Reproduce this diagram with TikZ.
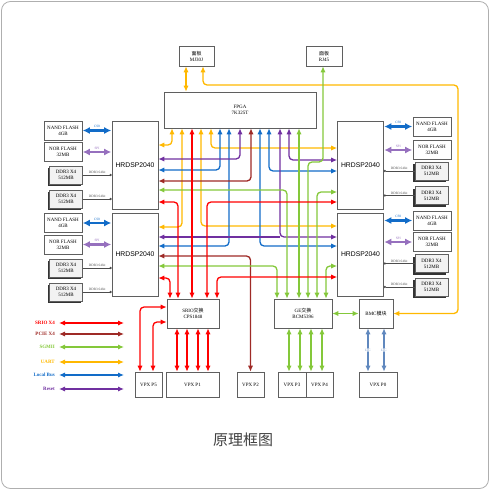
\documentclass[tikz,border=0pt]{standalone}
\usepackage{fontspec}
\setmainfont{Liberation Serif}
\newfontfamily\cjk{Noto Sans CJK SC}
\newfontfamily\dspfont{Liberation Sans}
\usepackage{tikz}
\usetikzlibrary{arrows.meta,calc,shadows}

\definecolor{srioc}{RGB}{255,0,0}
\definecolor{pciec}{RGB}{158,42,38}
\definecolor{sgmiic}{RGB}{132,200,58}
\definecolor{uartc}{RGB}{255,184,0}
\definecolor{lbusc}{RGB}{18,108,200}
\definecolor{rstc}{RGB}{112,48,160}
\definecolor{spic}{RGB}{150,112,190}
\definecolor{i2cc}{RGB}{96,136,190}
\definecolor{boxc}{RGB}{95,95,95}
\definecolor{framec}{RGB}{175,175,175}
\newcommand\boxfont{\fontsize{5}{6}\selectfont}
\newcommand\lblfont{\fontsize{3.4}{3.8}\selectfont}

\begin{document}
\begin{tikzpicture}[x=1pt,y=-1pt,
    >={Latex[length=6pt,width=5.2pt]},
    box/.style={draw=boxc, fill=white, line width=0.6pt, inner sep=0pt, align=center, font=\boxfont},
    dsp/.style={box, minimum width=46pt, font=\dspfont\fontsize{6.8}{8}\selectfont},
    flash/.style={box, minimum width=38pt, minimum height=19pt},
    ddrbox/.style={box, fill=gray!10, minimum width=33pt, minimum height=18pt,
        drop shadow={shadow xshift=-1.6pt, shadow yshift=-2pt, opacity=1, fill=black!80}},
    vpx/.style={box, minimum height=25pt},
    sw/.style={box, minimum height=29pt},
    bus/.style={line width=1.3pt, rounded corners=4pt, <->},
    srio/.style={bus, srioc},
    pcie/.style={bus, pciec},
    sgmii/.style={bus, sgmiic},
    uart/.style={bus, uartc},
    lbus/.style={bus, lbusc},
    rst/.style={bus, rstc},
    memlink/.style={line width=2.2pt, {Latex[length=7pt,width=7pt]}-{Latex[length=7pt,width=7pt]}, shorten <=0.5pt, shorten >=0.5pt},
    cslink/.style={memlink, lbusc},
    spilink/.style={memlink, spic},
    ddrlink/.style={black!70, line width=0.9pt},
    i2clink/.style={bus, i2cc},
    lbl/.style={font=\lblfont, inner sep=0.6pt},
    legend/.style={anchor=east, font=\bfseries\boxfont, inner sep=0pt}]
\useasboundingbox (0,0) rectangle (490,490);
\draw[framec, rounded corners=9pt, line width=0.8pt] (1.5,1.5) rectangle (488.5,488.5);

% top
\node[box, minimum width=35pt, minimum height=20pt] (mj) at (196.5,56) {{\cjk 面板}\\MJ30J};
\node[box, minimum width=36pt, minimum height=20pt] (rj) at (324,56) {{\cjk 面板}\\RJ45};
\node[box, minimum width=152pt, minimum height=36pt] (fpga) at (240,110) {FPGA\\7K325T};

% DSP
\node[dsp, minimum height=88pt] (dspA) at (135,165) {HRDSP2040};
\node[dsp, minimum height=83pt] (dspB) at (135,254.5) {HRDSP2040};
\node[dsp, minimum height=88pt] (dspC) at (360.5,165) {HRDSP2040};
\node[dsp, minimum height=83pt] (dspD) at (360.5,254.5) {HRDSP2040};

% left memories
\node[flash] (nandA) at (63,130.5) {NAND FLASH\\4GB};
\node[flash] (norA) at (63,152) {NOR FLASH\\32MB};
\node[ddrbox] (ddrA1) at (66,175) {DDR3 X4\\512MB};
\node[ddrbox] (ddrA2) at (66,199) {DDR3 X4\\512MB};
\node[flash] (nandB) at (63,223) {NAND FLASH\\4GB};
\node[flash] (norB) at (63,244.5) {NOR FLASH\\32MB};
\node[ddrbox] (ddrB1) at (66,268) {DDR3 X4\\512MB};
\node[ddrbox] (ddrB2) at (66,292) {DDR3 X4\\512MB};

% right memories
\node[flash] (nandC) at (432,126.5) {NAND FLASH\\4GB};
\node[flash] (norC) at (432,150) {NOR FLASH\\32MB};
\node[ddrbox] (ddrC1) at (431.5,171) {DDR3 X4\\512MB};
\node[ddrbox] (ddrC2) at (431.5,195.5) {DDR3 X4\\512MB};
\node[flash] (nandD) at (432,220.5) {NAND FLASH\\4GB};
\node[flash] (norD) at (432,242) {NOR FLASH\\32MB};
\node[ddrbox] (ddrD1) at (431.5,263.5) {DDR3 X4\\512MB};
\node[ddrbox] (ddrD2) at (431.5,287) {DDR3 X4\\512MB};

% switches
\node[sw, minimum width=52pt] (srio) at (193,313.5) {SRIO{\cjk 交换}\\CPS1848};
\node[sw, minimum width=58pt] (ge) at (303,313.5) {GE{\cjk 交换}\\BCM5396};
\node[sw, minimum width=34pt] (bmc) at (376,313.5) {BMC{\cjk 模块}};

% VPX
\node[vpx, minimum width=27pt] (p5) at (148.5,384.5) {VPX P5};
\node[vpx, minimum width=53pt] (p1) at (192.5,384.5) {VPX P1};
\node[vpx, minimum width=27pt] (p2) at (250.5,384.5) {VPX P2};
\node[vpx, minimum width=28pt] (p3) at (292,384.5) {VPX P3};
\node[vpx, minimum width=27pt] (p4) at (319.5,384.5) {VPX P4};
\node[vpx, minimum width=38pt] (p0) at (378,384.5) {VPX P0};

% memory links
\foreach \m/\d in {nandA/dspA, nandB/dspB}
  \draw[cslink] (\m.east) -- (\m.east -| \d.west) node[lbl, midway, above=1pt, text=lbusc] {CS0};
\foreach \m/\d in {norA/dspA, norB/dspB}
  \draw[spilink] (\m.east) -- (\m.east -| \d.west) node[lbl, midway, above=1pt, text=spic] {SPI};
\foreach \m/\d in {ddrA1/dspA, ddrA2/dspA, ddrB1/dspB, ddrB2/dspB}
  \draw[ddrlink, -{Circle[open,length=2.2pt]}] (\m.east) -- (\m.east -| \d.west) node[lbl, midway, above] {DDR3 64bit};
\foreach \m/\d in {nandC/dspC, nandD/dspD}
  \draw[cslink] (\m.west) -- (\m.west -| \d.east) node[lbl, midway, above=1pt, text=lbusc] {CS0};
\foreach \m/\d in {norC/dspC, norD/dspD}
  \draw[spilink] (\m.west) -- (\m.west -| \d.east) node[lbl, midway, above=1pt, text=spic] {SPI};
\foreach \m/\d in {ddrC1/dspC, ddrC2/dspC, ddrD1/dspD, ddrD2/dspD}
  \draw[ddrlink, -{Circle[open,length=2.2pt]}] (\m.west) -- (\m.west -| \d.east) node[lbl, midway, above] {DDR3 64bit};

% UART
\coordinate (uartr) at (458,85);
\draw[uart] (mj.south -| 186,0) -- (fpga.north -| 186,0);
\draw[uart] (mj.south -| 203,0) |- (uartr) |- (bmc.east);
\draw[uart] (fpga.south -| 172,0) |- (dspA.east |- 0,145);
\draw[uart] (fpga.south -| 182,0) |- (dspB.east |- 0,227);
\draw[uart] (fpga.south -| 201,0) |- (dspD.west |- 0,226);
\draw[uart] (fpga.south -| 211,0) |- (dspC.west |- 0,148);

% Local Bus
\draw[lbus] (fpga.south -| 220,0) |- (dspA.east |- 0,170);
\draw[lbus] (fpga.south -| 229,0) |- (dspB.east |- 0,246);
\draw[lbus] (fpga.south -| 260,0) |- (dspD.west |- 0,246);
\draw[lbus] (fpga.south -| 269,0) |- (dspC.west |- 0,171);

% Reset
\coordinate (rstj) at (280,237);
\draw[rst] (fpga.south -| 240,0) |- (dspA.east |- 0,159);
\draw[rst] (fpga.south -| 289,0) |- (dspC.west |- 0,160);
\draw[rst] (fpga.south -| 280,0) |- (dspD.west |- rstj);
\draw[rst, <-] (dspB.east |- rstj) -- (rstj);

% PCIE
\draw[pcie] (fpga.south -| 251,0) |- (dspA.east |- 0,181);
\draw[pcie] (dspB.east |- 0,256) -| (p2.north);

% SGMII
\coordinate (rjj) at (323,162);
\draw[sgmii] (fpga.south -| 299,0) -- (ge.north -| 299,0);
\draw[sgmii] (rj.south -| 323,0) -- (rjj) -| (ge.north -| 308,0);
\draw[sgmii] (dspA.east |- 0,190) -| (ge.north -| 287,0);
\draw[sgmii] (dspB.east |- 0,266) -| (ge.north -| 277,0);
\draw[sgmii] (dspC.west |- 0,192) -| (ge.north -| 317,0);
\draw[sgmii] (dspD.west |- 0,266) -| (ge.north -| 326,0);
\foreach \x in {289,300}
  \draw[sgmii] (ge.south -| \x,0) -- (p3.north -| \x,0);
\foreach \x in {311,322}
  \draw[sgmii] (ge.south -| \x,0) -- (p4.north -| \x,0);
\draw[sgmii] (ge.east) -- (bmc.west);

% SRIO
\draw[srio] (fpga.south -| 192,0) -- (srio.north -| 192,0);
\draw[srio] (dspA.east |- 0,202) -| (srio.north -| 178,0);
\draw[srio] (dspB.east |- 0,278) -| (srio.north -| 170,0);
\draw[srio] (dspC.west |- 0,202) -| (srio.north -| 207,0);
\draw[srio] (dspD.west |- 0,277) -| (srio.north -| 217,0);
\foreach \x in {177,187,198,208}
  \draw[srio] (srio.south -| \x,0) -- (p1.north -| \x,0);
\draw[srio] (p5.north -| 140,0) |- (srio.west |- 0,307);
\draw[srio] (p5.north -| 153,0) |- (srio.west |- 0,322);

% I2C
\foreach \x in {368,384}
  \draw[i2clink] (bmc.south -| \x,0) -- (p0.north -| \x,0) node[lbl, midway, fill=white, text=i2cc] {I2C};

% legend
\node[legend, text=srioc] (lgA) at (55,323) {SRIO X4};
\node[legend, text=pciec] (lgB) at (55,334) {PCIE X4};
\node[legend, text=sgmiic] (lgC) at (55,347) {SGMII};
\node[legend, text=uartc] (lgD) at (55,362) {UART};
\node[legend, text=lbusc] (lgE) at (55,375) {Local Bus};
\node[legend, text=rstc] (lgF) at (55,389) {Reset};
\draw[srio] ([xshift=4pt]lgA.east) -- ++(65,0);
\draw[pcie] ([xshift=4pt]lgB.east) -- ++(65,0);
\draw[sgmii] ([xshift=4pt]lgC.east) -- ++(65,0);
\draw[uart] ([xshift=4pt]lgD.east) -- ++(65,0);
\draw[lbus] ([xshift=4pt]lgE.east) -- ++(65,0);
\draw[rst] ([xshift=4pt]lgF.east) -- ++(65,0);

\node[font=\cjk\fontsize{15}{17}\selectfont, text=black!75] (cap) at (243,440) {原理框图};
\end{tikzpicture}
\end{document}
